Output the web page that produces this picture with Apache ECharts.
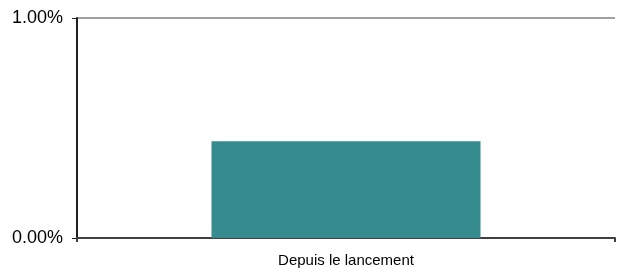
<!DOCTYPE html>
<html><head><meta charset="utf-8">
<script src="https://cdn.jsdelivr.net/npm/echarts@6/dist/echarts.min.js"></script>
<style>html,body{margin:0;padding:0;background:#fff}#c{width:620px;height:268px}</style>
</head><body><div id="c"></div>
<script>
const categories = ["Depuis le lancement"];
const values = [0.44];
const yTicks = [0, 1];

const chart = echarts.init(document.getElementById('c'), null, {renderer: 'canvas'});
chart.setOption({
  animation: false,
  backgroundColor: '#ffffff',
  grid: {left: 77, right: 5, top: 18, bottom: 30, containLabel: false},
  xAxis: {
    type: 'category', data: categories,
    axisLine: {lineStyle: {color: '#404040', width: 2}},
    axisTick: {show: true, length: 4, lineStyle: {color: '#404040', width: 2}},
    axisLabel: {color: '#000', fontFamily: 'Liberation Sans', fontSize: 15, margin: 15}
  },
  yAxis: {
    type: 'value', min: yTicks[0], max: yTicks[yTicks.length-1], interval: 1,
    axisLine: {show: true, lineStyle: {color: '#202020', width: 2}},
    axisTick: {show: true, length: 5, lineStyle: {color: '#202020', width: 1}},
    splitLine: {show: true, lineStyle: {color: '#a0a0a0', width: 2}},
    axisLabel: {color: '#000', fontFamily: 'Liberation Sans', fontSize: 18, margin: 14,
      formatter: v => v.toFixed(2) + '%'}
  },
  series: [{
    type: 'bar', data: values, barWidth: '50%',
    itemStyle: {color: '#358B8E'}
  }]
});
</script></body></html>
